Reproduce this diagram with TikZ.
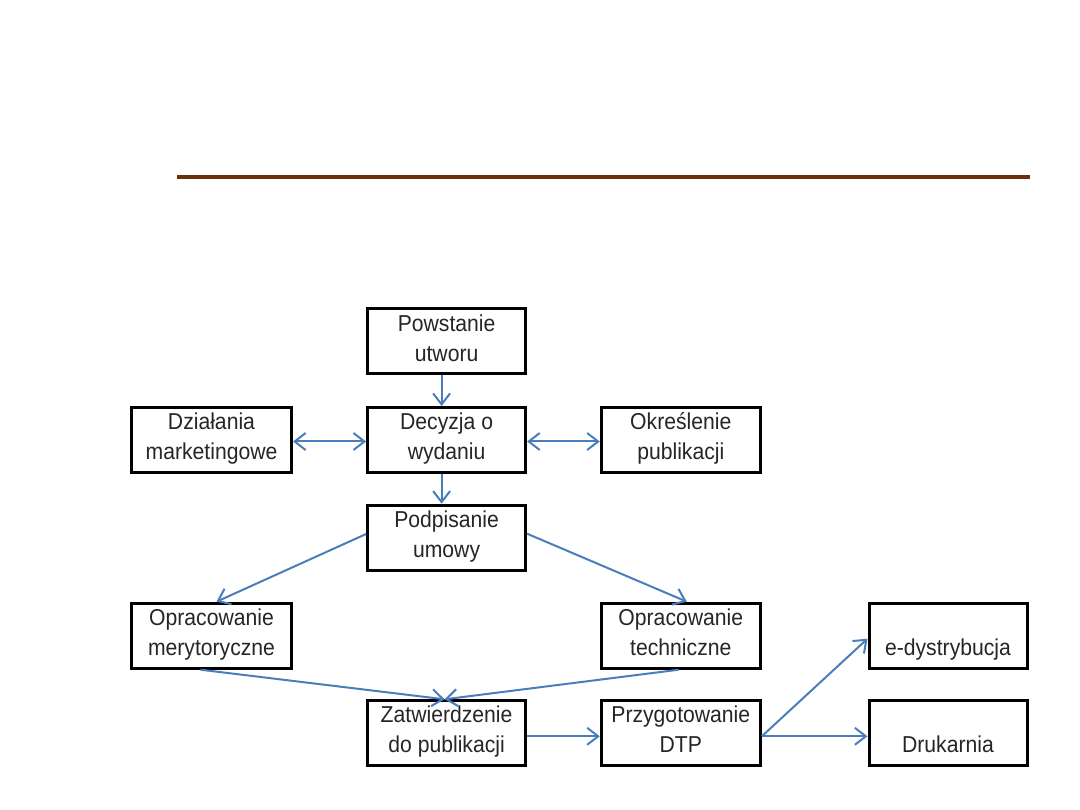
\documentclass[tikz,border=0pt]{standalone}
\usepackage{fontspec}
\setmainfont{Liberation Sans}
\usepackage{graphicx}
\usetikzlibrary{arrows.meta}
\definecolor{arrc}{RGB}{74,126,187}
\definecolor{rulec}{RGB}{107,48,8}
\newcommand\bt[3]{\vbox to 65pt{\offinterlineskip\kern22pt\hbox to #1{\hss\smash{\scalebox{0.92}[1]{#2}}\hss}\kern30pt\hbox to #1{\hss\smash{\scalebox{0.92}[1]{#3}}\hss}\vss}}
\tikzset{
  box/.style={draw=black, line width=3pt, inner sep=0pt, font=\fontsize{23}{28}\selectfont, text=black!85},
  arr/.style={draw=arrc, line width=2pt, -{Straight Barb[length=11pt,width=17pt]}},
  arrb/.style={draw=arrc, line width=2pt, {Straight Barb[length=11pt,width=17pt]}-{Straight Barb[length=11pt,width=17pt]}}
}
\begin{document}
\begin{tikzpicture}[x=1pt,y=-1pt]
\useasboundingbox (0,0) rectangle (1080,810);
\fill[white] (0,0) rectangle (1080,810);
\draw[line width=4pt, rulec] (177,177) -- (1030,177);
\node[box] (pow) at (446.6,341.5) {\bt{158pt}{Powstanie}{utworu}};
\node[box] (dec) at (446.6,440) {\bt{158pt}{Decyzja o}{wydaniu}};
\node[box] (dzi) at (211.5,440) {\bt{160pt}{Działania}{marketingowe}};
\node[box] (okr) at (680.8,440) {\bt{159pt}{Określenie}{publikacji}};
\node[box] (pod) at (446.6,537.7) {\bt{158pt}{Podpisanie}{umowy}};
\node[box] (mer) at (211.5,635.7) {\bt{160pt}{Opracowanie}{merytoryczne}};
\node[box] (tec) at (680.8,635.7) {\bt{159pt}{Opracowanie}{techniczne}};
\node[box] (edy) at (948,635.7) {\bt{158pt}{}{e-dystrybucja}};
\node[box] (zat) at (446.6,733.3) {\bt{158pt}{Zatwierdzenie}{do publikacji}};
\node[box] (prz) at (680.8,733.3) {\bt{159pt}{Przygotowanie}{DTP}};
\node[box] (dru) at (948,733.3) {\bt{158pt}{}{Drukarnia}};
\draw[arr] ([xshift=-5pt]pow.south) -- ([xshift=-5pt]dec.north);
\draw[arrb] ([yshift=-1.5pt]dzi.east) -- ([yshift=-1.5pt]dec.west);
\draw[arrb] ([yshift=-1.5pt]dec.east) -- ([yshift=-1.5pt]okr.west);
\draw[arr] ([xshift=-5pt]dec.south) -- ([xshift=-5pt]pod.north);
\draw[arr] ([yshift=3.7pt]pod.west) -- ([xshift=5pt]mer.north);
\draw[arr] ([yshift=4pt]pod.east) -- ([xshift=6pt]tec.north);
\draw[arr] ([xshift=-11pt]mer.south) -- ([xshift=-2pt]zat.north);
\draw[arr] ([xshift=-2pt]tec.south) -- ([xshift=-2pt]zat.north);
\draw[arr] ([yshift=-3pt]zat.east) -- ([yshift=-3pt]prz.west);
\draw[arr] ([yshift=-3pt]prz.east) -- ([yshift=-3pt]dru.west);
\draw[arr] ([yshift=-3pt]prz.east) -- ([yshift=-3pt]edy.west);
\end{tikzpicture}
\end{document}
